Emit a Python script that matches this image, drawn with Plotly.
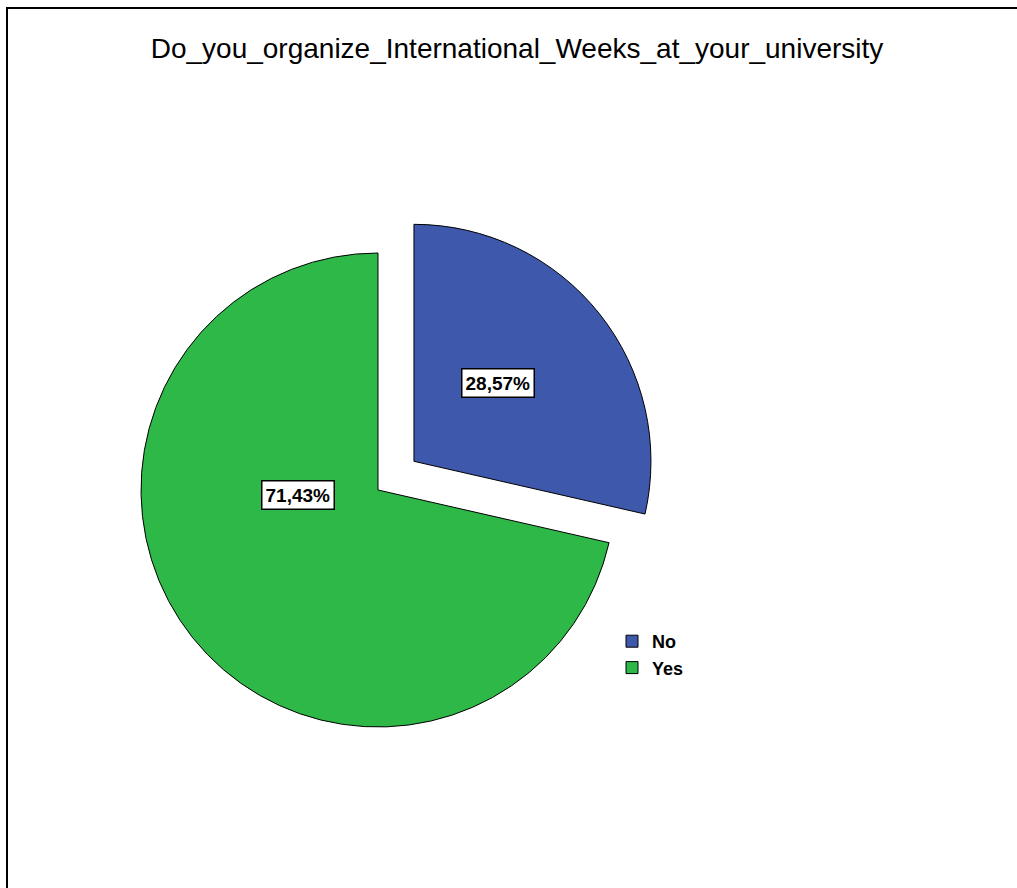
import math
import plotly.graph_objects as go

# ---- data ----
categories = ["No", "Yes"]
percentages = [28.57, 71.43]
colors = ["#3E58AC", "#2EB848"]
title_text = "Do_you_organize_International_Weeks_at_your_university"

# ---- layout geometry (pixels) ----
W, H = 1017, 888
pie_cx, pie_cy = 378, 490          # pie centre in pixels (from top-left)
radius = 237
pull_px = 46
pull = pull_px / radius
half_box = radius * (1 + pull)

dom_x = [(pie_cx - half_box) / W, (pie_cx + half_box) / W]
dom_y = [1 - (pie_cy + half_box) / H, 1 - (pie_cy - half_box) / H]

pulls = [pull, 0]

FONT = "Liberation Sans, Arial, sans-serif"

fig = go.Figure()
fig.add_trace(go.Pie(
    labels=categories,
    values=percentages,
    sort=False,
    direction="clockwise",
    rotation=0,
    pull=pulls,
    marker=dict(colors=colors, line=dict(color="black", width=1)),
    textinfo="none",
    hoverinfo="label+percent",
    domain=dict(x=dom_x, y=dom_y),
    showlegend=True,
))

# label boxes computed from slice geometry
label_style = [(0.485, -4.3), (0.34, 35.0)]   # (radial fraction, angle shift in degrees)
total = sum(percentages)
start = 0.0
annotations = []
for i, v in enumerate(percentages):
    span = v / total * 360.0
    mid = start + span / 2
    ccx = pie_cx + pulls[i] * radius * math.sin(math.radians(mid))
    ccy = pie_cy - pulls[i] * radius * math.cos(math.radians(mid))
    f, shift = label_style[i]
    ang = math.radians(mid + shift)
    lx = ccx + f * radius * math.sin(ang)
    ly = ccy - f * radius * math.cos(ang)
    txt = f"{v / total * 100:.2f}%".replace(".", ",")
    annotations.append(dict(
        x=lx / W, y=1 - ly / H, xref="paper", yref="paper",
        text=f"<b>{txt}</b>", showarrow=False,
        font=dict(family=FONT, size=19, color="black"),
        bgcolor="white", bordercolor="black", borderwidth=1.5, borderpad=3,
        xanchor="center", yanchor="middle",
    ))
    start += span

fig.update_layout(
    width=W, height=H,
    margin=dict(l=0, r=0, t=0, b=0),
    paper_bgcolor="white",
    plot_bgcolor="white",
    title=dict(
        text=title_text,
        x=517 / W, xanchor="center",
        y=1 - 48 / H, yanchor="middle", yref="container",
        font=dict(family=FONT, size=28, color="black"),
    ),
    legend=dict(
        x=612 / W, xanchor="left",
        y=1 - 623 / H, yanchor="top",
        font=dict(family=FONT, size=18, color="black", weight="bold"),
        bgcolor="rgba(0,0,0,0)",
        tracegroupgap=0,
        itemwidth=30,
    ),
    annotations=annotations,
    shapes=[dict(
        type="rect", xref="paper", yref="paper",
        x0=7 / W, x1=1.05, y0=-0.05, y1=1 - 8 / H,
        line=dict(color="black", width=2), fillcolor="rgba(0,0,0,0)",
    )],
)

fig.write_html(
    "out.html",
    config={"displayModeBar": False},
    post_script="document.body.style.margin='0px';document.body.style.overflow='hidden';",
)
